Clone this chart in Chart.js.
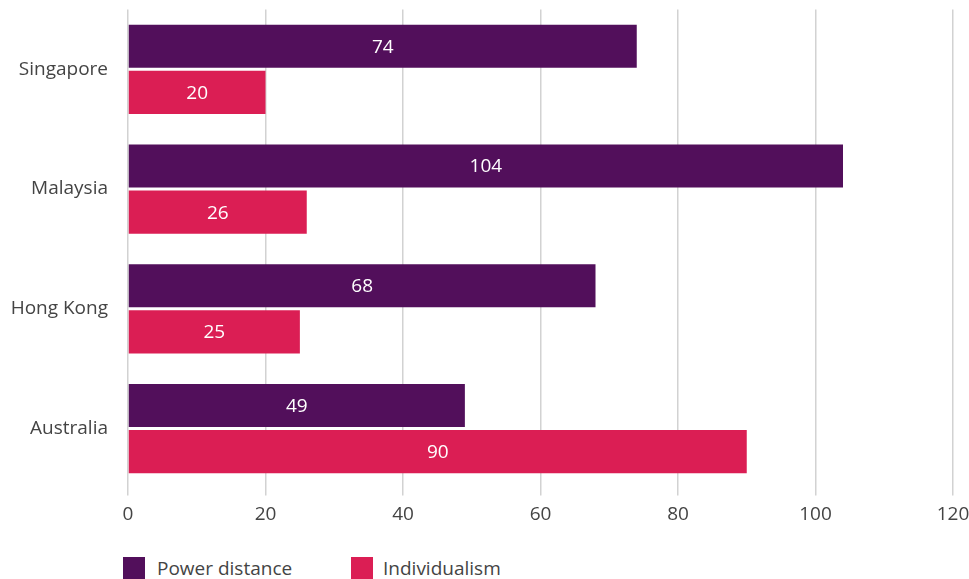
<!DOCTYPE html>
<html>
<head>
<meta charset="utf-8">
<script src="https://cdn.jsdelivr.net/npm/chart.js@4/dist/chart.umd.min.js"></script>
<style>
  html, body { margin: 0; padding: 0; background: #fff; overflow: hidden; }
  #wrap { position: relative; width: 969px; height: 579px; overflow: hidden; }
  #cultureChart { position: absolute; left: 0; top: -14px; }
  .legend { position: absolute; top: 557px; font: 19px "Open Sans", sans-serif; color: #444; }
  .legend span.box { position: absolute; left: 0; top: 0; width: 22px; height: 22px; }
  .legend span.txt { position: absolute; white-space: nowrap; top: -2px; }
</style>
</head>
<body>
<div id="wrap">
  <canvas id="cultureChart" width="969" height="554"></canvas>
  <div class="legend" style="left:123px"><span class="box" style="background:#520f5b"></span><span class="txt" style="left:34px">Power distance</span></div>
  <div class="legend" style="left:351px"><span class="box" style="background:#db1e54"></span><span class="txt" style="left:32px">Individualism</span></div>
</div>
<script>
const countries = ["Singapore", "Malaysia", "Hong Kong", "Australia"]
const powerDistance = [74, 104, 68, 49]
const individualism = [20, 26, 25, 90]
const xTicks = [0, 20, 40, 60, 80, 100, 120]

const PURPLE = "#520f5b"
const PINK = "#db1e54"
const FONT = "'Open Sans', sans-serif"

// write each value in white in the middle of its bar
const barValues = {
  id: "barValues",
  afterDatasetsDraw(chart) {
    const ctx = chart.ctx
    ctx.save()
    ctx.fillStyle = "#ffffff"
    ctx.font = "19px " + FONT
    ctx.textAlign = "center"
    ctx.textBaseline = "middle"
    chart.data.datasets.forEach((ds, i) => {
      chart.getDatasetMeta(i).data.forEach((bar, j) => {
        const left = Math.min(bar.x, bar.base)
        const right = Math.max(bar.x, bar.base)
        ctx.fillText(String(ds.data[j]), (left + right) / 2, bar.y + 1)
      })
    })
    ctx.restore()
  },
}

new Chart(document.getElementById("cultureChart"), {
  type: "bar",
  data: {
    labels: countries,
    datasets: [
      { label: "Power distance", data: powerDistance, backgroundColor: PURPLE },
      { label: "Individualism", data: individualism, backgroundColor: PINK },
    ],
  },
  options: {
    indexAxis: "y",
    responsive: false,
    animation: false,
    categoryPercentage: 0.77,
    barPercentage: 0.935,
    layout: { padding: { top: 10, right: 16, left: 0, bottom: 0 } },
    plugins: {
      legend: { display: false },
      tooltip: { enabled: false },
    },
    scales: {
      x: {
        min: 0,
        max: 120,
        afterBuildTicks: (scale) => {
          scale.ticks = xTicks.map((v) => ({ value: v }))
        },
        afterFit: (scale) => {
          scale.height = 51.5
          scale.paddingRight = 0
        },
        grid: { color: "#d2d2d2", lineWidth: 1.5, tickLength: 7, drawTicks: true },
        border: { display: false },
        ticks: { color: "#444", font: { family: FONT, size: 19 }, padding: 8 },
      },
      y: {
        afterFit: (scale) => {
          scale.width = 128
        },
        grid: { display: false },
        border: { display: false },
        ticks: { color: "#444", font: { family: FONT, size: 19 }, padding: 12 },
      },
    },
  },
  plugins: [barValues],
})
</script>
</body>
</html>
